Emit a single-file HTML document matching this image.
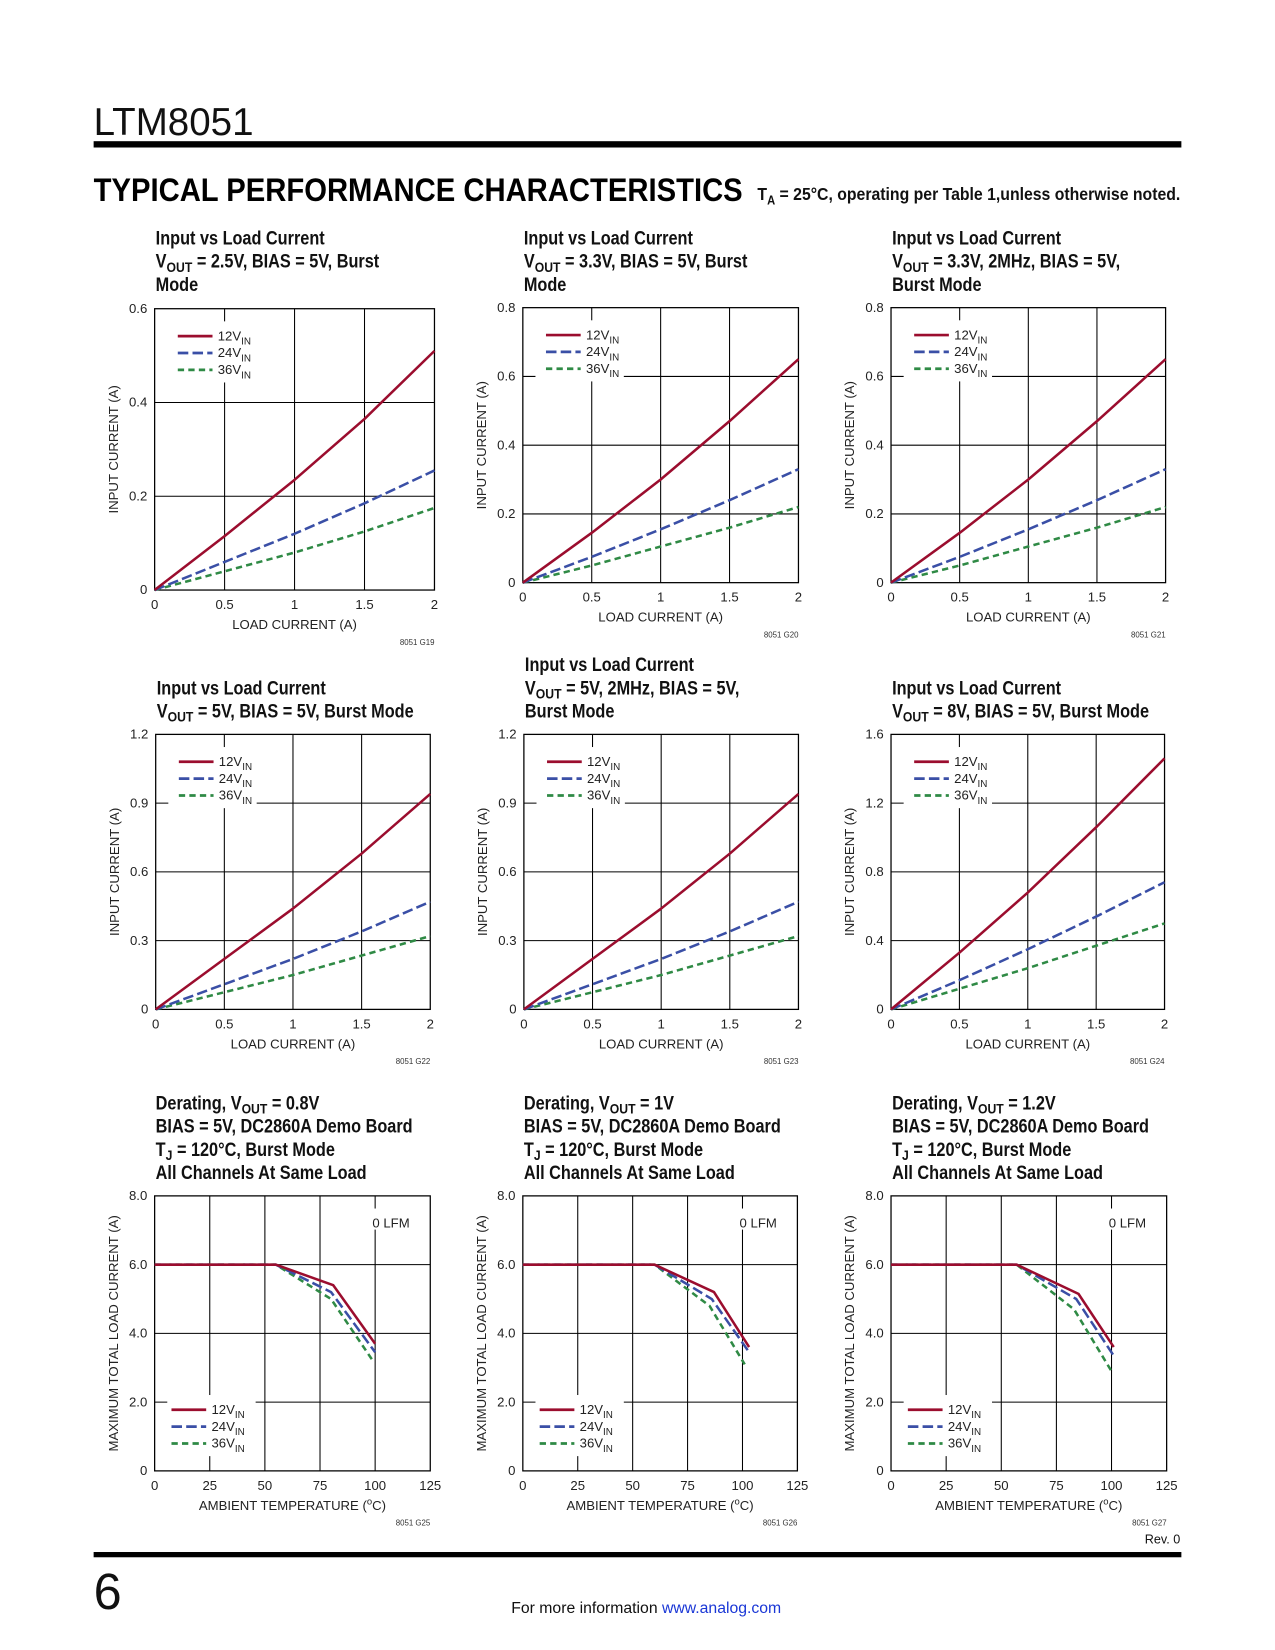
<!DOCTYPE html>
<html><head><meta charset="utf-8"><style>
html,body{margin:0;padding:0;background:#fff}
svg{display:block}
text{font-family:"Liberation Sans",sans-serif}
.t{font-family:"Liberation Sans Narrow","Liberation Sans",sans-serif;font-weight:bold;font-size:18px;fill:#111}
.tk{font-size:12.5px;fill:#222}
.ax{font-size:12.5px;fill:#222}
</style></head><body>
<svg id="pg" width="1275" height="1650" viewBox="0 0 1212 1566" preserveAspectRatio="none" xmlns="http://www.w3.org/2000/svg">
<text x="89" y="128" font-size="37" fill="#111" textLength="152" lengthAdjust="spacingAndGlyphs">LTM8051</text>
<rect x="89" y="134" width="1034" height="6" fill="#000"/>
<text x="89" y="191" font-size="31" font-weight="bold" fill="#000" textLength="617" lengthAdjust="spacingAndGlyphs">TYPICAL PERFORMANCE CHARACTERISTICS</text>
<text x="720" y="190" font-size="17" font-weight="bold" fill="#111" font-family="Liberation Sans Narrow, Liberation Sans, sans-serif" textLength="402" lengthAdjust="spacingAndGlyphs">T<tspan font-size="12" dy="4">A</tspan><tspan dy="-4"> = 25°C, operating per Table 1,unless otherwise noted.</tspan></text>
<rect x="89" y="1473" width="1034" height="5" fill="#000"/>
<text x="89" y="1527" font-size="48" fill="#111">6</text>
<text x="486" y="1531" font-size="15" fill="#111">For more information <tspan fill="#1a37d6">www.analog.com</tspan></text>
<text x="1122" y="1465" font-size="12" text-anchor="end" fill="#111">Rev. 0</text>
<g id="charts"></g>
</svg>
<script>
// ---- data ----
const loadX = [0, 0.5, 1, 1.5, 2];
// chart G19
const g19_12 = [0, 0.115, 0.235, 0.365, 0.51];
const g19_24 = [0, 0.06, 0.12, 0.185, 0.255];
const g19_36 = [0, 0.04, 0.08, 0.125, 0.175];
// chart G20
const g20_12 = [0, 0.145, 0.30, 0.47, 0.65];
const g20_24 = [0, 0.075, 0.155, 0.24, 0.33];
const g20_36 = [0, 0.05, 0.105, 0.16, 0.22];
// chart G21
const g21_12 = [0, 0.145, 0.30, 0.47, 0.65];
const g21_24 = [0, 0.075, 0.155, 0.24, 0.33];
const g21_36 = [0, 0.05, 0.105, 0.16, 0.22];
// chart G22
const g22_12 = [0, 0.22, 0.44, 0.68, 0.94];
const g22_24 = [0, 0.11, 0.22, 0.34, 0.47];
const g22_36 = [0, 0.075, 0.15, 0.235, 0.32];
// chart G23
const g23_12 = [0, 0.22, 0.44, 0.68, 0.94];
const g23_24 = [0, 0.11, 0.22, 0.34, 0.47];
const g23_36 = [0, 0.075, 0.15, 0.235, 0.32];
// chart G24
const g24_12 = [0, 0.33, 0.68, 1.06, 1.46];
const g24_24 = [0, 0.17, 0.35, 0.54, 0.74];
const g24_36 = [0, 0.12, 0.24, 0.37, 0.50];
// derating G25
const g25_t12 = [0, 55, 81, 100], g25_12 = [6, 6, 5.4, 3.7];
const g25_t24 = [0, 55, 80, 100], g25_24 = [6, 6, 5.2, 3.45];
const g25_t36 = [0, 55, 80, 99],  g25_36 = [6, 6, 5.0, 3.2];
// derating G26
const g26_t12 = [0, 60, 87, 103], g26_12 = [6, 6, 5.2, 3.6];
const g26_t24 = [0, 60, 86, 103], g26_24 = [6, 6, 5.0, 3.45];
const g26_t36 = [0, 60, 85, 101], g26_36 = [6, 6, 4.8, 3.1];
// derating G27
const g27_t12 = [0, 57, 85, 101], g27_12 = [6, 6, 5.15, 3.6];
const g27_t24 = [0, 57, 84, 101], g27_24 = [6, 6, 5.0, 3.35];
const g27_t36 = [0, 57, 83, 100], g27_36 = [6, 6, 4.7, 2.9];
const loadTicks = ["0","0.5","1","1.5","2"];
const tempTicks = ["0","25","50","75","100","125"];
const y06 = ["0","0.2","0.4","0.6"];
const y08 = ["0","0.2","0.4","0.6","0.8"];
const y12 = ["0","0.3","0.6","0.9","1.2"];
const y16 = ["0","0.4","0.8","1.2","1.6"];
const y8 = ["0","2.0","4.0","6.0","8.0"];

const NS = "http://www.w3.org/2000/svg";
const root = document.getElementById('charts');
const RED="#9b0d2e", BLUE="#3a4fa6", GREEN="#2f8a45";
function mk(tag, attrs, parent){
  const e=document.createElementNS(NS,tag);
  for(const k in attrs) e.setAttribute(k,attrs[k]);
  (parent||root).appendChild(e); return e;
}
function sub(parent, main, s, rest){
  parent.appendChild(document.createTextNode(main));
  const a=document.createElementNS(NS,'tspan'); a.setAttribute('font-size','0.75em'); a.setAttribute('dy','4'); a.textContent=s; parent.appendChild(a);
  const b=document.createElementNS(NS,'tspan'); b.setAttribute('dy','-4'); b.textContent=rest; parent.appendChild(b);
}
function chart(c){
  const g=mk('g',{});
  
  
  const {x0,x1,y0,y1}=c;
  const sx=v=>x0+(v-c.xmin)/(c.xmax-c.xmin)*(x1-x0);
  const sy=v=>y1-(v-c.ymin)/(c.ymax-c.ymin)*(y1-y0);
  c.title.forEach((ln,i)=>{
    const tx=x0+1;
    const t=mk('text',{x:tx,y:c.ty+i*22,class:'t',transform:`translate(${tx} 0) scale(0.86 1) translate(${-tx} 0)`},g);
    
    
    if(Array.isArray(ln)) sub(t,ln[0],ln[1],ln[2]); else t.textContent=ln;
  });
  const nx=c.xt.length-1, ny=c.yt.length-1;
  for(let i=1;i<nx;i++){const xv=c.xmin+i*(c.xmax-c.xmin)/nx; const l=mk('line',{x1:sx(xv),x2:sx(xv),y1:y0,y2:y1,stroke:'#000','stroke-width':1},g);
     }
  for(let i=1;i<ny;i++){const yv=c.ymin+i*(c.ymax-c.ymin)/ny; const l=mk('line',{x1:x0,x2:x1,y1:sy(yv),y2:sy(yv),stroke:'#000','stroke-width':1},g);
     }
  c.xt.forEach((s,i)=>{const t=mk('text',{x:x0+i*(x1-x0)/nx,y:y1+18,'text-anchor':'middle',class:'tk'},g);t.textContent=s;
     });
  c.yt.forEach((s,i)=>{const t=mk('text',{x:x0-7,y:y1-i*(y1-y0)/ny+4,'text-anchor':'end',class:'tk'},g);t.textContent=s;
     });
  const xt=mk('text',{x:(x0+x1)/2,y:y1+37,'text-anchor':'middle',class:'ax'},g);
   
  if(c.derate){ xt.appendChild(document.createTextNode('AMBIENT TEMPERATURE (')); const s=document.createElementNS(NS,'tspan'); s.setAttribute('font-size','9'); s.setAttribute('dy','-5'); s.textContent='o'; xt.appendChild(s); const r=document.createElementNS(NS,'tspan'); r.setAttribute('dy','5'); r.textContent='C)'; xt.appendChild(r);}
  else xt.textContent='LOAD CURRENT (A)';
  const yc=(y0+y1)/2, yx=x0-35;
  const yt=mk('text',{x:yx,y:yc,'text-anchor':'middle',class:'ax',transform:`rotate(-90 ${yx} ${yc})`},g);
  yt.textContent=c.derate?'MAXIMUM TOTAL LOAD CURRENT (A)':'INPUT CURRENT (A)';
   
  const fc=mk('text',{x:x1,y:y1+52,'text-anchor':'end','font-size':'7.5',fill:'#333'},g); fc.textContent=c.code;
   
  const lg=mk('g',{},g);
   
  const ly=c.derate? y1-72 : y0+12;
  mk('rect',{x:x0+12,y:ly,width:84,height:58,fill:'#fff'},lg);
  const labels=['12','24','36'], cols=[RED,BLUE,GREEN], dashes=['none','10 4','6 4'];
  labels.forEach((v,i)=>{
    const yy=ly+14+i*16;
    const l=mk('line',{x1:x0+20+(c.derate?-4:2),x2:x0+53+(c.derate?-4:2),y1:yy,y2:yy,stroke:cols[i],'stroke-width':2.6,'stroke-dasharray':dashes[i]},lg);
     
    const t=mk('text',{x:x0+58+(c.derate?-4:2),y:yy+4,'font-size':'12.5',fill:'#222'},lg);
     
    sub(t,v+'V','IN','');
  });
  if(c.derate){ mk('rect',{x:x1-60,y:y0+12,width:48,height:20,fill:'#fff'},g);
    const t=mk('text',{x:x1-55,y:y0+30,'font-size':'12.5',fill:'#222'},g); t.textContent='0 LFM';
     }
  const fr=mk('rect',{x:x0,y:y0,width:x1-x0,height:y1-y0,fill:'none',stroke:'#000','stroke-width':1.2},g);
   
  [2,1,0].forEach(i=>{
    const s=c.series[i];
    const d=s.x.map((xv,j)=>(j?'L':'M')+sx(xv).toFixed(1)+' '+sy(s.y[j]).toFixed(1)).join(' ');
    const p=mk('path',{d,fill:'none',stroke:cols[i],'stroke-width':2.4,'stroke-dasharray':dashes[i],'stroke-linejoin':'round'},g);
    
    
  });
}
const L=(a,b,c)=>[{x:loadX,y:a},{x:loadX,y:b},{x:loadX,y:c}];
chart({name:'chart-g19',x0:147,x1:413,y0:293,y1:560,xmin:0,xmax:2,ymin:0,ymax:0.6,xt:loadTicks,yt:y06,code:'8051 G19',ty:232,
  title:['Input vs Load Current',['V','OUT',' = 2.5V, BIAS = 5V, Burst'],'Mode'],series:L(g19_12,g19_24,g19_36)});
chart({name:'chart-g20',x0:497,x1:759,y0:292,y1:553,xmin:0,xmax:2,ymin:0,ymax:0.8,xt:loadTicks,yt:y08,code:'8051 G20',ty:232,
  title:['Input vs Load Current',['V','OUT',' = 3.3V, BIAS = 5V, Burst'],'Mode'],series:L(g20_12,g20_24,g20_36)});
chart({name:'chart-g21',x0:847,x1:1108,y0:292,y1:553,xmin:0,xmax:2,ymin:0,ymax:0.8,xt:loadTicks,yt:y08,code:'8051 G21',ty:232,
  title:['Input vs Load Current',['V','OUT',' = 3.3V, 2MHz, BIAS = 5V,'],'Burst Mode'],series:L(g21_12,g21_24,g21_36)});
chart({name:'chart-g22',x0:148,x1:409,y0:697,y1:958,xmin:0,xmax:2,ymin:0,ymax:1.2,xt:loadTicks,yt:y12,code:'8051 G22',ty:659,
  title:['Input vs Load Current',['V','OUT',' = 5V, BIAS = 5V, Burst Mode']],series:L(g22_12,g22_24,g22_36)});
chart({name:'chart-g23',x0:498,x1:759,y0:697,y1:958,xmin:0,xmax:2,ymin:0,ymax:1.2,xt:loadTicks,yt:y12,code:'8051 G23',ty:637,
  title:['Input vs Load Current',['V','OUT',' = 5V, 2MHz, BIAS = 5V,'],'Burst Mode'],series:L(g23_12,g23_24,g23_36)});
chart({name:'chart-g24',x0:847,x1:1107,y0:697,y1:958,xmin:0,xmax:2,ymin:0,ymax:1.6,xt:loadTicks,yt:y16,code:'8051 G24',ty:659,
  title:['Input vs Load Current',['V','OUT',' = 8V, BIAS = 5V, Burst Mode']],series:L(g24_12,g24_24,g24_36)});
const dt=(v)=>[['Derating, V','OUT',' = '+v],'BIAS = 5V, DC2860A Demo Board',['T','J',' = 120°C, Burst Mode'],'All Channels At Same Load'];
chart({name:'chart-g25',derate:true,x0:147,x1:409,y0:1135,y1:1396,xmin:0,xmax:125,ymin:0,ymax:8,xt:tempTicks,yt:y8,code:'8051 G25',ty:1053,
  title:dt('0.8V'),series:[{x:g25_t12,y:g25_12},{x:g25_t24,y:g25_24},{x:g25_t36,y:g25_36}]});
chart({name:'chart-g26',derate:true,x0:497,x1:758,y0:1135,y1:1396,xmin:0,xmax:125,ymin:0,ymax:8,xt:tempTicks,yt:y8,code:'8051 G26',ty:1053,
  title:dt('1V'),series:[{x:g26_t12,y:g26_12},{x:g26_t24,y:g26_24},{x:g26_t36,y:g26_36}]});
chart({name:'chart-g27',derate:true,x0:847,x1:1109,y0:1135,y1:1396,xmin:0,xmax:125,ymin:0,ymax:8,xt:tempTicks,yt:y8,code:'8051 G27',ty:1053,
  title:dt('1.2V'),series:[{x:g27_t12,y:g27_12},{x:g27_t24,y:g27_24},{x:g27_t36,y:g27_36}]});
</script>
</body></html>
